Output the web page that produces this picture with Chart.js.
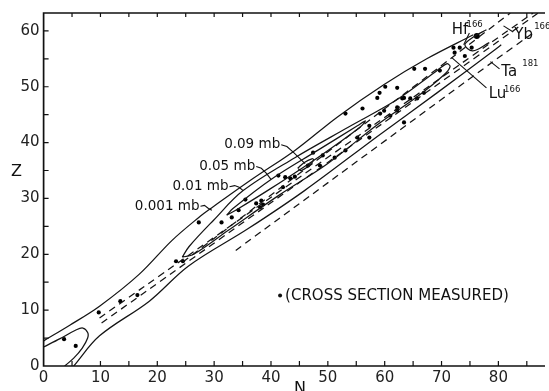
<!DOCTYPE html>
<html><head><meta charset="utf-8">
<script src="https://cdn.jsdelivr.net/npm/chart.js@4/dist/chart.umd.min.js"></script>
<style>html,body{margin:0;padding:0;background:#fff;}#wrap{width:549px;height:391px;}</style>
</head><body><div id="wrap"><canvas id="c" width="549" height="391"></canvas></div>
<script>
// ---- data (N, Z) ----
const xTicks = [0,10,20,30,40,50,60,70,80];
const yTicks = [0,10,20,30,40,50,60];
const c0001Upper = [[0,4.5],[4.6,7.3],[9.84,10.7],[16.8,16.4],[22.6,22.5],[27.3,26.6],[29.4,28.2],[36.9,33.6],[44.2,38.6],[51.7,44.6],[59.9,50.4],[67.4,55.0],[75.6,59.3]];
const c0001Lower = [[5.3,0],[9.84,5.4],[18.6,11.6],[25.5,17.9],[36.0,24.6],[45.9,31.4],[58.7,41.1],[69.2,48.9],[79.1,56.4],[80.5,57.5]];
const cLowLoop = [[0,3.4],[2.9,4.9],[5.6,6.4],[6.9,6.8],[7.75,6.0],[7.75,5.0],[6.8,3.2],[5.3,1.4],[3.7,0]];
const c001Loop = [[24.4,19.5],[25.6,21.4],[29.9,26.1],[35.1,31.4],[44.2,37.3],[53.5,42.7],[62.2,47.7],[68.7,52.5],[70.9,54.1],[71.5,53.6],[70.4,52.1],[65.7,48.2],[58.7,43.2],[50.0,36.25],[41.3,30.5],[32.5,24.3],[26.4,20.0],[24.4,19.5]];
const c005Loop = [[32.2,27.0],[33.3,28.2],[40.0,33.4],[48.2,38.6],[55.2,43.0],[56.6,43.9],[55.6,42.7],[48.2,37.3],[40.0,31.8],[34.3,28.2],[32.2,27.0]];
const c009Loop = [[44.7,35.4],[45.8,36.4],[47.2,37.1],[47.5,36.9],[46.7,35.9],[45.3,35.0],[44.7,35.4]];
const cHfArc = [[77.9,60.2],[75.6,58.9],[74.1,57.5],[75.5,56.4],[78.4,57.9]];
const dash1 = [[9.84,8.6],[86.1,63.2]];
const dash2 = [[10.2,7.7],[87.0,63.2]];
const dashLu = [[24.5,18.6],[71.8,55.2],[82.1,63.2]];
const dashTa = [[33.8,20.7],[78.8,54.3],[86.6,60.0]];
const measured = [[3.6,4.8],[5.65,3.6],[9.7,9.6],[13.5,11.6],[16.5,12.7],[23.3,18.75],[24.5,18.75],[27.3,25.7],[31.3,25.7],[33.1,26.6],[34.3,27.9],[35.5,29.8],[37.4,29.1],[38.3,29.6],[38.6,28.9],[38.1,28.4],[41.3,34.1],[42.1,32.0],[42.5,33.8],[43.4,33.6],[44.2,33.9],[46.5,35.9],[47.4,38.2],[48.6,35.9],[49.1,37.7],[51.2,37.3],[53.1,38.6],[53.1,45.2],[56.1,46.1],[55.2,40.9],[57.3,40.9],[57.3,43.0],[59.2,45.2],[58.7,48.0],[59.1,48.9],[61.0,44.8],[62.2,46.3],[63.4,48.0],[63.4,43.6],[60.1,50.0],[62.2,49.8],[63.1,47.9],[64.5,47.9],[65.7,47.9],[66.9,48.9],[65.2,53.2],[67.1,53.2],[69.7,52.9],[72.1,57.0],[73.2,57.0],[72.3,56.1],[74.1,55.5],[75.3,57.0],[59.9,45.7],[62.2,45.7]];
const measuredBig = [[76.2,59.1]];

// ---- annotation layout (data coordinates) ----
const contourLabels = [
  {text:'0.09 mb', path:[[41.8,39.6],[42.8,39.3],[44.0,38.2],[46.0,36.25]]},
  {text:'0.05 mb', path:[[37.4,35.7],[38.3,35.4],[39.2,34.5],[40.0,33.4]]},
  {text:'0.01 mb', path:[[32.7,32.1],[33.6,32.3],[34.4,32.0],[35.1,31.4]]},
  {text:'0.001 mb', path:[[27.6,28.6],[28.3,28.75],[29.0,28.2],[29.6,27.9]]}
];
const nuclideLabels = [
  {el:'Hf', mass:'166', at:[71.8,59.5], sup:[74.4,60.7], path:[[74.9,59.6],[73.9,57.5]]},
  {el:'Yb', mass:'166', at:[82.8,58.6], sup:[86.3,60.4], path:[[82.6,59.8],[80.9,60.9]]},
  {el:'Lu', mass:'166', at:[78.3,48.0], sup:[81.0,49.1], path:[[77.9,49.8],[71.8,55.2]]},
  {el:'Ta', mass:'181', at:[80.5,52.0], sup:[84.2,53.75], path:[[80.2,53.2],[79.1,54.1],[78.6,54.5]]}
];
const legendAt = [41.6,12.6];

const xy = a => a.map(([x,y]) => ({x,y}));
const solid = (a) => ({data:xy(a), showLine:true, pointRadius:0, borderColor:'#151515', borderWidth:1.25, tension:0.35, fill:false});
const dashed = (a) => ({data:xy(a), showLine:true, pointRadius:0, borderColor:'#151515', borderWidth:1.25, borderDash:[7,5], tension:0.2, fill:false});

const overlay = {
  id:'overlay',
  afterDraw(chart){
    const {ctx, chartArea:a, scales:{x, y}} = chart;
    const P = ([n,z]) => [x.getPixelForValue(n), y.getPixelForValue(z)];
    ctx.save();
    ctx.strokeStyle = '#111'; ctx.fillStyle = '#111';
    ctx.lineWidth = 1.7;
    ctx.beginPath();
    ctx.moveTo(a.right, a.top); ctx.lineTo(a.left, a.top); ctx.lineTo(a.left, a.bottom); ctx.lineTo(a.right, a.bottom);
    ctx.stroke();
    ctx.lineWidth = 1.2;
    ctx.beginPath();
    for (let v = 5; v < x.max; v += 5) {
      const px = x.getPixelForValue(v);
      ctx.moveTo(px, a.bottom); ctx.lineTo(px, a.bottom - 5);
      ctx.moveTo(px, a.top); ctx.lineTo(px, a.top + 4);
    }
    for (let v = 5; v < y.max; v += 5) {
      const py = y.getPixelForValue(v);
      ctx.moveTo(a.left, py); ctx.lineTo(a.left + 5, py);
    }
    ctx.stroke();

    // contour labels with pointers
    ctx.lineWidth = 1.1;
    ctx.font = '13.5px "DejaVu Sans"';
    ctx.textBaseline = 'middle'; ctx.textAlign = 'right';
    contourLabels.forEach(l => {
      const pts = l.path.map(P);
      ctx.fillText(l.text, pts[0][0] - 1, pts[0][1]);
      ctx.beginPath(); ctx.moveTo(pts[0][0], pts[0][1]);
      for (let i = 1; i < pts.length; i++) ctx.lineTo(pts[i][0], pts[i][1]);
      ctx.stroke();
    });
    // nuclide labels
    ctx.textAlign = 'left'; ctx.textBaseline = 'alphabetic';
    nuclideLabels.forEach(l => {
      const p = P(l.at), s = P(l.sup);
      ctx.font = '15px "DejaVu Sans"';
      ctx.fillText(l.el, p[0], p[1]);
      ctx.font = '8.5px "DejaVu Sans"';
      ctx.fillText(l.mass, s[0], s[1]);
      const pts = l.path.map(P);
      ctx.beginPath(); ctx.moveTo(pts[0][0], pts[0][1]);
      for (let i = 1; i < pts.length; i++) ctx.lineTo(pts[i][0], pts[i][1]);
      ctx.stroke();
    });
    // legend
    const lg = P(legendAt);
    ctx.beginPath(); ctx.arc(lg[0], lg[1], 2, 0, Math.PI*2); ctx.fill();
    ctx.font = '15px "DejaVu Sans"'; ctx.textBaseline = 'middle';
    ctx.fillText('(CROSS SECTION MEASURED)', lg[0] + 5, lg[1]);
    // axis titles
    ctx.font = '16px "DejaVu Sans"'; ctx.textAlign = 'center';
    ctx.fillText('Z', a.left - 27, y.getPixelForValue(34.8));
    ctx.fillText('N', x.getPixelForValue(45.1), a.bottom + 23);
    ctx.restore();
  }
};

new Chart(document.getElementById('c'), {
  type:'scatter',
  data:{datasets:[
    solid(c0001Upper), solid(c0001Lower), solid(cLowLoop), solid(c001Loop), solid(c005Loop), solid(c009Loop), solid(cHfArc),
    dashed(dash1), dashed(dash2), dashed(dashLu), dashed(dashTa),
    {data:xy(measured), pointRadius:2.1, pointBackgroundColor:'#000', pointBorderWidth:0, showLine:false},
    {data:xy(measuredBig), pointRadius:3, pointBackgroundColor:'#000', pointBorderWidth:0, showLine:false}
  ]},
  options:{
    responsive:false, devicePixelRatio:1, animation:false,
    layout:{padding:{top:12, right:0, left:0, bottom:0}},
    plugins:{legend:{display:false}, tooltip:{enabled:false}},
    scales:{
      x:{type:'linear', min:0, max:88.2,
        afterBuildTicks:s => { s.ticks = xTicks.map(v => ({value:v})); },
        afterFit:s => { s.height = 25; },
        grid:{display:false, drawTicks:false}, border:{display:false},
        ticks:{font:{family:'DejaVu Sans', size:15}, color:'#222', padding:3, maxRotation:0, autoSkip:false}},
      y:{type:'linear', min:0, max:63.2,
        afterBuildTicks:s => { s.ticks = yTicks.map(v => ({value:v})); },
        afterFit:s => { s.width = 43.6; },
        grid:{display:false, drawTicks:false}, border:{display:false},
        ticks:{font:{family:'DejaVu Sans', size:15}, color:'#222', padding:4, autoSkip:false}}
    }
  },
  plugins:[overlay]
});
</script></body></html>
